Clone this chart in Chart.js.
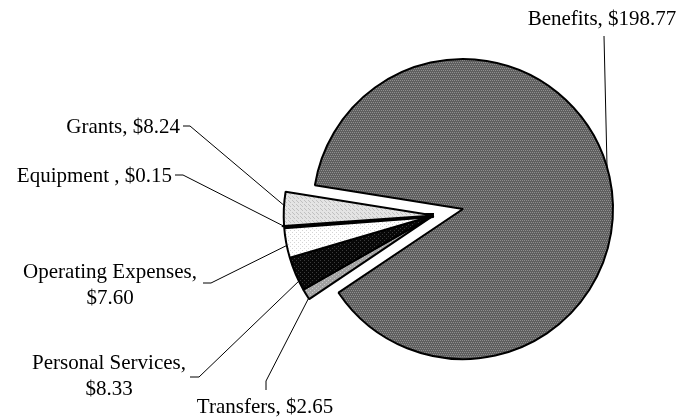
<!DOCTYPE html>
<html>
<head>
<meta charset="utf-8">
<script src="https://cdn.jsdelivr.net/npm/chart.js@4.4.1/dist/chart.umd.min.js"></script>
<style>
  html, body { margin: 0; padding: 0; background: #fff; }
</style>
</head>
<body>
<canvas id="chart" width="695" height="418"></canvas>
<script>
// Data (clockwise from the top-left edge of the big slice)
var categories = ['Benefits', 'Transfers', 'Personal Services', 'Operating Expenses', 'Equipment ', 'Grants'];
var amounts = [198.77, 2.65, 8.33, 7.60, 0.15, 8.24];
var labelLines = [
  ['Benefits, $198.77'],
  ['Transfers, $2.65'],
  ['Personal Services,', '$8.33'],
  ['Operating Expenses,', '$7.60'],
  ['Equipment , $0.15'],
  ['Grants, $8.24']
];

// where each label sits and how its leader line leaves it
// at = fraction along the slice's arc where the leader touches
var callouts = [
  { x: 602, y: 19,  align: 'center', path: [[604, 36]], at: 0.488 },
  { x: 265, y: 407, align: 'center', path: [[266, 390], [266, 381]], at: 0.1 },
  { x: 109, y: 363, align: 'center', path: [[190, 377], [199, 377]], at: 0.28 },
  { x: 110, y: 272, align: 'center', path: [[203, 283], [211, 283]], at: 0.4 },
  { x: 172, y: 176, align: 'right',  path: [[175, 175], [183, 175]], at: 0.5 },
  { x: 180, y: 127, align: 'right',  path: [[183, 126], [190, 126]], at: 0.6 }
];

function makePattern(bg, fg, size, dots) {
  var c = document.createElement('canvas');
  c.width = size; c.height = size;
  var g = c.getContext('2d');
  g.fillStyle = bg;
  g.fillRect(0, 0, size, size);
  g.fillStyle = fg;
  dots.forEach(function (d) { g.fillRect(d[0], d[1], 1, 1); });
  return g.createPattern(c, 'repeat');
}

var ctx = document.getElementById('chart').getContext('2d');

var fills = [
  makePattern('#5f5f5f', '#8e8e8e', 4, [[0, 0], [2, 0], [1, 2], [3, 2]]),
  makePattern('#a2a2a2', '#cacaca', 4, [[0, 0], [2, 2]]),
  makePattern('#080808', '#3c3c3c', 4, [[0, 0], [2, 2]]),
  makePattern('#ffffff', '#d4d4d4', 4, [[0, 0], [2, 2]]),
  '#000000',
  makePattern('#e4e4e4', '#c0c0c0', 4, [[0, 0], [2, 2], [1, 1]])
];
var borders = [2, 2, 2, 2, 5, 2];

// pull the small slices out together, as one wedge
var explode = 30;
var explodePlugin = {
  id: 'explodeGroup',
  afterDatasetsUpdate: function (chart) {
    var arcs = chart.getDatasetMeta(0).data;
    var first = arcs[1], last = arcs[arcs.length - 1];
    var mid = (first.startAngle + last.endAngle) / 2;
    var dx = Math.cos(mid) * explode, dy = Math.sin(mid) * explode;
    for (var i = 1; i < arcs.length; i++) {
      arcs[i].x += dx;
      arcs[i].y += dy;
    }
  }
};

var calloutPlugin = {
  id: 'callouts',
  afterDatasetsDraw: function (chart) {
    var c = chart.ctx;
    var arcs = chart.getDatasetMeta(0).data;
    c.save();
    c.font = '21px "Liberation Serif", "Times New Roman", serif';
    c.fillStyle = '#000';
    c.strokeStyle = '#000';
    c.lineWidth = 1;
    c.textBaseline = 'middle';
    arcs.forEach(function (arc, i) {
      var p = callouts[i];
      var a = arc.startAngle + (arc.endAngle - arc.startAngle) * p.at;
      var ex = arc.x + Math.cos(a) * arc.outerRadius;
      var ey = arc.y + Math.sin(a) * arc.outerRadius;
      c.beginPath();
      c.moveTo(p.path[0][0], p.path[0][1]);
      for (var k = 1; k < p.path.length; k++) c.lineTo(p.path[k][0], p.path[k][1]);
      c.lineTo(ex, ey);
      c.stroke();
      c.textAlign = p.align;
      labelLines[i].forEach(function (t, j) {
        c.fillText(t, p.x, p.y + j * 26);
      });
    });
    c.restore();
  }
};

var chart = new Chart(ctx, {
  type: 'pie',
  data: {
    labels: categories,
    datasets: [{
      data: amounts,
      backgroundColor: fills,
      borderColor: '#000',
      borderWidth: borders
    }]
  },
  options: {
    responsive: false,
    animation: false,
    rotation: 279.1,
    radius: 150,
    layout: { padding: { left: 250, right: 19, top: 50, bottom: 50 } },
    plugins: {
      legend: { display: false },
      tooltip: { enabled: false }
    }
  },
  plugins: [explodePlugin, calloutPlugin]
});
</script>
</body>
</html>
